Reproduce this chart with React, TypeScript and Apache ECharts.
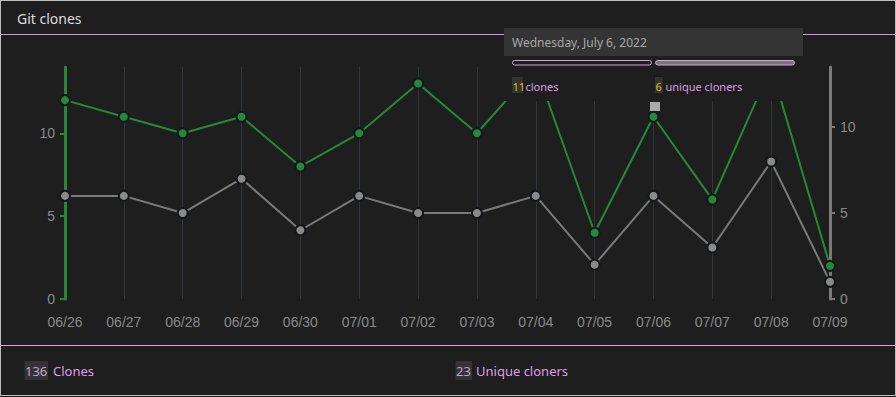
import React, { useEffect, useRef } from "react";
import * as echarts from "echarts";

const dates = ["06/26", "06/27", "06/28", "06/29", "06/30", "07/01", "07/02", "07/03", "07/04", "07/05", "07/06", "07/07", "07/08", "07/09"];
const clones = [12, 11, 10, 11, 8, 10, 13, 10, 14, 4, 11, 6, 14, 2];
const uniques = [6, 6, 5, 7, 4, 6, 5, 5, 6, 2, 6, 3, 8, 1];
const yTicks = [0, 5, 10];
const totalClones = "136";
const totalUniques = "23";
const tooltipDate = "Wednesday, July 6, 2022";
const tooltipClones = "11";
const tooltipUniques = "6";

const BG = "#1e1e1e";
const GREEN = "#26893a";
const GRAY = "#7a7a7a";
const PINK = "#d99ee3";
const UI_FONT = "Noto Sans";

export default function App() {
  const ref = useRef<HTMLDivElement>(null);
  useEffect(() => {
    if (!ref.current) return;
    const chart = echarts.init(ref.current, null, { renderer: "svg" });
    const txt = (text: string, x: number, y: number, fill: string, size: number, extra: any = {}) => ({
      type: "text",
      z: 100,
      style: { text, x, y, fill, font: `${size}px "${UI_FONT}"`, verticalAlign: "middle", ...extra },
    });
    const rect = (x: number, y: number, width: number, height: number, style: any) => ({
      type: "rect",
      z: 99,
      shape: { x, y, width, height, r: style.r || 0 },
      style,
    });
    chart.setOption({
      animation: false,
      backgroundColor: BG,
      grid: { left: 65, right: 66, top: 67, bottom: 98, containLabel: false },
      xAxis: {
        type: "category",
        data: dates,
        boundaryGap: false,
        axisLine: { show: false },
        axisTick: { show: false },
        axisLabel: { color: "#8a8a8a", fontSize: 14, fontFamily: "Liberation Sans", margin: 16 },
        splitLine: { show: true, lineStyle: { color: "#30363d", width: 1 } },
      },
      yAxis: [
        {
          type: "value",
          min: 0,
          max: 14,
          interval: 5,
          position: "left",
          axisLine: { show: true, lineStyle: { color: GREEN, width: 3 } },
          axisTick: { show: true, length: 5, customValues: yTicks, lineStyle: { color: GREEN, width: 2 } },
          axisLabel: { color: "#8a8a8a", fontSize: 14, fontFamily: "Liberation Sans", margin: 10, customValues: yTicks },
          splitLine: { show: false },
        },
        {
          type: "value",
          min: 0,
          max: 13.5,
          interval: 5,
          position: "right",
          axisLine: { show: true, lineStyle: { color: GRAY, width: 3 } },
          axisTick: { show: true, length: 5, customValues: yTicks, lineStyle: { color: GRAY, width: 2 } },
          axisLabel: { color: "#8a8a8a", fontSize: 14, fontFamily: "Liberation Sans", margin: 10, customValues: yTicks },
          splitLine: { show: false },
        },
      ],
      series: [
        {
          name: "unique cloners",
          type: "line",
          yAxisIndex: 1,
          data: uniques,
          symbol: "circle",
          symbolSize: 10,
          lineStyle: { color: GRAY, width: 2 },
          itemStyle: { color: "#8a8a8a", borderColor: "#14181e", borderWidth: 2 },
          z: 3,
        },
        {
          name: "clones",
          type: "line",
          yAxisIndex: 0,
          data: clones,
          symbol: "circle",
          symbolSize: 10,
          lineStyle: { color: GREEN, width: 2 },
          itemStyle: { color: GREEN, borderColor: "#14181e", borderWidth: 2 },
          z: 4,
        },
      ],
      graphic: [
        txt("Git clones", 17, 18, "#dcdcdc", 14),
        rect(1, 34, 894, 1, { fill: "#dd8ee8" }),
        rect(1, 345, 894, 1, { fill: "#d4a6d8" }),
        // footer
        rect(24.5, 361, 23.5, 19, { fill: "#333333" }),
        txt(totalClones, 25, 371, "#c9a0d2", 13),
        txt("Clones", 53, 371, PINK, 13),
        rect(455.5, 361, 16.5, 19, { fill: "#333333" }),
        txt(totalUniques, 456, 371, "#c9a0d2", 13),
        txt("Unique cloners", 476, 371, PINK, 13),
        // tooltip
        rect(504, 28, 299, 73, { fill: BG }),
        rect(504, 28, 299, 28, { fill: "#343434" }),
        txt(tooltipDate, 512, 42, "#a8a8a8", 12),
        rect(512.5, 60.5, 139, 4.5, { fill: BG, stroke: "#d9a0e0", lineWidth: 1, r: 2.5 }),
        rect(655.5, 60.5, 139, 4.5, { fill: "#777777", stroke: "#d9a0e0", lineWidth: 1, r: 2.5 }),
        rect(512, 77, 10.5, 16, { fill: "#333333" }),
        txt(tooltipClones, 512.5, 86, "#e5c100", 11),
        txt("clones", 525.5, 86, PINK, 11),
        rect(655, 77, 7.5, 16, { fill: "#333333" }),
        txt(tooltipUniques, 655.5, 86, "#e5c100", 11),
        txt("unique cloners", 665.5, 86, PINK, 11),
        rect(650, 102, 10, 9, { fill: "#a9a9a9" }),
      ],
    });
    return () => chart.dispose();
  }, []);
  return (
    <div style={{ position: "fixed", left: 0, top: 0, width: 896, height: 397, background: BG }}>
      <div ref={ref} style={{ position: "absolute", left: 0, top: 0, width: 896, height: 397 }} />
      <div
        style={{
          position: "absolute",
          left: 0,
          top: 0,
          width: 896,
          height: 396,
          boxSizing: "border-box",
          border: "1px solid #bcbcbc",
          pointerEvents: "none",
        }}
      />
    </div>
  );
}
